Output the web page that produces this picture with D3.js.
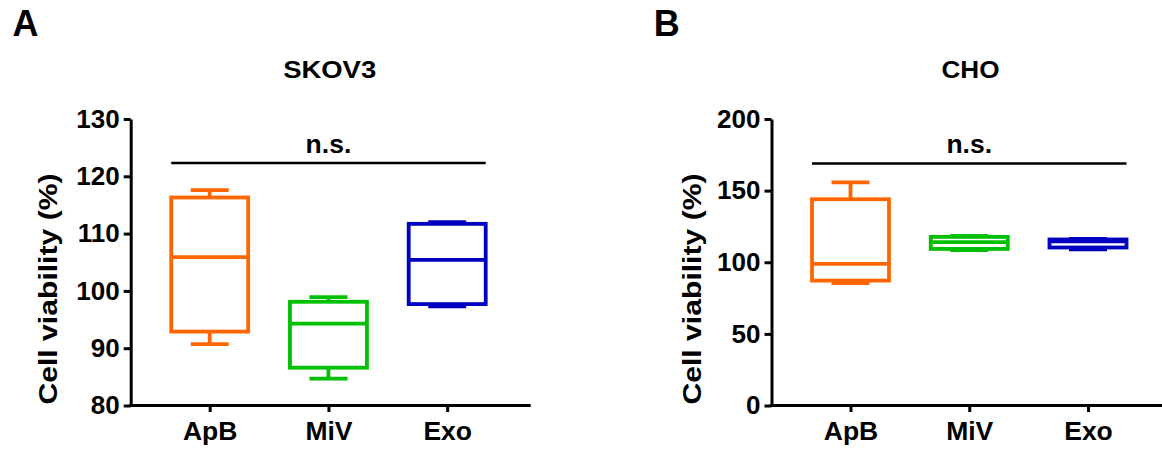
<!DOCTYPE html>
<html>
<head>
<meta charset="utf-8">
<script src="https://cdn.jsdelivr.net/npm/d3@7"></script>
<style>
body{margin:0;background:#fff}
svg text{font-family:"Liberation Sans",Arial,sans-serif;font-weight:bold;fill:#000}
</style>
</head>
<body>
<div id="chart"></div>
<script>
var categories = ["ApB", "MiV", "Exo"];
// five-number summaries per category: [min, q1, median, q3, max]
var skov3Stats = [
	[90.7, 92.9, 105.9, 116.3, 117.6],
	[84.7, 86.6, 94.3, 98.1, 98.9],
	[97.3, 97.7, 105.4, 111.7, 112.0]
];
var choStats = [
	[85.4, 87.2, 98.8, 144.0, 155.8],
	[108.4, 109.3, 114.0, 117.7, 118.4],
	[109.0, 110.3, 114.6, 115.9, 116.3]
];
var skov3Ticks = [80, 90, 100, 110, 120, 130];
var choTicks = [0, 50, 100, 150, 200];
var skov3Sig = 122.3, choSig = 169.0;
var sigText = "n.s.";
var yTitle = "Cell viability (%)";
var colors = ["#ff6600", "#00c000", "#0000c0"];

var W = 1162, H = 452;
var svg = d3.select("#chart").append("svg")
	.attr("width", W)
	.attr("height", H);

svg.append("rect").attr("width", W).attr("height", H).attr("fill", "#fff");

function panel(o){
	var ox = o.ox;
	var ax = ox + 130.7;        // y axis position
	var bottom = 405.5, top = 119;
	var y = d3.scaleLinear()
		.domain([o.ticks[0], o.ticks[o.ticks.length - 1]])
		.range([bottom, top]);
	var x = d3.scalePoint()
		.domain(categories)
		.range([ax + 79, ax + 316.5]);

	var g = svg.append("g");

	// panel letter
	g.append("text")
		.attr("x", ox + o.letterX)
		.attr("y", 35.7)
		.style("font-size", "36px")
		.text(o.letter);

	// title
	g.append("text")
		.attr("x", ax + 199)
		.attr("y", 78)
		.attr("text-anchor", "middle")
		.attr("textLength", o.titleLen)
		.attr("lengthAdjust", "spacingAndGlyphs")
		.style("font-size", "23px")
		.text(o.title);

	// y axis
	var ya = g.append("g")
		.attr("transform", "translate(" + ax + ",0)")
		.call(d3.axisLeft(y).tickValues(o.ticks).tickSize(7).tickSizeOuter(0).tickPadding(4));
	ya.select(".domain").attr("stroke-width", 3);
	ya.selectAll(".tick line").attr("stroke-width", 3);
	ya.selectAll(".tick text")
		.style("font-size", "26px")
		.style("font-family", "'Liberation Sans',Arial,sans-serif")
		.style("font-weight", "bold");

	// x axis
	g.append("line")
		.attr("x1", ax - 1.5).attr("x2", ax + 400)
		.attr("y1", bottom).attr("y2", bottom)
		.attr("stroke", "#000").attr("stroke-width", 3);
	var xa = g.append("g")
		.attr("transform", "translate(0," + bottom + ")")
		.call(d3.axisBottom(x).tickSize(6.5));
	xa.select(".domain").remove();
	xa.selectAll(".tick line").attr("stroke-width", 3);
	xa.selectAll(".tick text")
		.attr("y", 34.5).attr("dy", 0)
		.style("font-size", "26.5px")
		.style("font-family", "'Liberation Sans',Arial,sans-serif")
		.style("font-weight", "bold");

	// y title
	g.append("text")
		.attr("transform", "translate(" + (ox + o.labelX) + ",289) rotate(-90)")
		.attr("text-anchor", "middle")
		.attr("textLength", 231)
		.attr("lengthAdjust", "spacingAndGlyphs")
		.style("font-size", "25px")
		.text(yTitle);

	// boxes
	var bw = 38.5, cw = 19;
	var boxes = g.selectAll(".box")
		.data(o.stats)
		.enter().append("g")
		.attr("class", "box")
		.attr("stroke", function(d, i){ return colors[i]; })
		.attr("stroke-width", 3.8)
		.attr("fill", "none");

	boxes.append("line")
		.attr("x1", function(d, i){ return x(categories[i]); })
		.attr("x2", function(d, i){ return x(categories[i]); })
		.attr("y1", function(d){ return y(d[3]); })
		.attr("y2", function(d){ return y(d[4]); });
	boxes.append("line")
		.attr("x1", function(d, i){ return x(categories[i]); })
		.attr("x2", function(d, i){ return x(categories[i]); })
		.attr("y1", function(d){ return y(d[1]); })
		.attr("y2", function(d){ return y(d[0]); });
	[0, 4].forEach(function(k){
		boxes.append("line")
			.attr("x1", function(d, i){ return x(categories[i]) - cw; })
			.attr("x2", function(d, i){ return x(categories[i]) + cw; })
			.attr("y1", function(d){ return y(d[k]); })
			.attr("y2", function(d){ return y(d[k]); });
	});
	boxes.append("rect")
		.attr("x", function(d, i){ return x(categories[i]) - bw; })
		.attr("width", bw * 2)
		.attr("y", function(d){ return y(d[3]); })
		.attr("height", function(d){ return y(d[1]) - y(d[3]); })
		.attr("fill", "#fff");
	boxes.append("line")
		.attr("x1", function(d, i){ return x(categories[i]) - bw; })
		.attr("x2", function(d, i){ return x(categories[i]) + bw; })
		.attr("y1", function(d){ return y(d[2]); })
		.attr("y2", function(d){ return y(d[2]); });

	// significance bar
	var sx1 = x(categories[0]) - bw, sx2 = x(categories[2]) + bw;
	g.append("line")
		.attr("x1", sx1).attr("x2", sx2)
		.attr("y1", y(o.sig)).attr("y2", y(o.sig))
		.attr("stroke", "#000").attr("stroke-width", 2.5);
	g.append("text")
		.attr("x", (sx1 + sx2) / 2)
		.attr("y", 152.7)
		.attr("text-anchor", "middle")
		.style("font-size", "26.5px")
		.text(sigText);
}

panel({ox: 0, letter: "A", letterX: 12.5, labelX: 56.5, title: "SKOV3", titleLen: 93,
	stats: skov3Stats, ticks: skov3Ticks, sig: skov3Sig});
panel({ox: 640.8, letter: "B", letterX: 13, labelX: 60.5, title: "CHO", titleLen: 58,
	stats: choStats, ticks: choTicks, sig: choSig});
</script>
</body>
</html>
